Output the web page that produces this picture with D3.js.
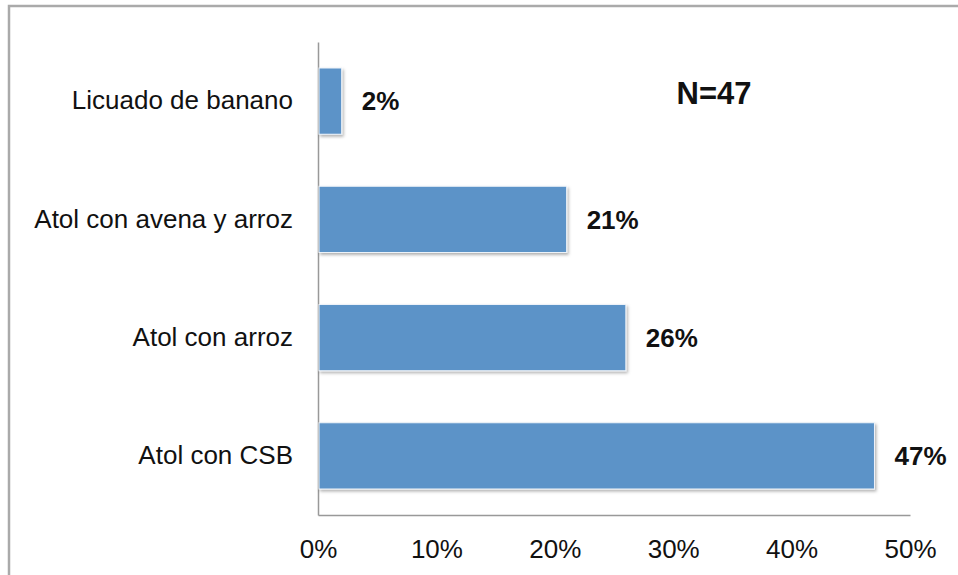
<!DOCTYPE html>
<html>
<head>
<meta charset="utf-8">
<script src="https://cdn.jsdelivr.net/npm/d3@7"></script>
<style>
  body { margin: 0; background: #fff; }
  text { font-family: "Liberation Sans", Arial, sans-serif; fill: #111; }
</style>
</head>
<body>
<div id="chart"></div>
<script>
// data
var categories = ["Licuado de banano", "Atol con avena y arroz", "Atol con arroz", "Atol con CSB"];
var values = [2, 21, 26, 47];
var tickValues = [0, 10, 20, 30, 40, 50];
var note = "N=47";

var W = 958, H = 575;
var margin = {top: 42, right: 48, bottom: 60, left: 318},
    width = W - margin.left - margin.right,
    height = H - margin.top - margin.bottom;

var svg = d3.select("#chart")
  .append("svg")
  .attr("width", W)
  .attr("height", H);

// outer frame (only top and left visible)
svg.append("path")
  .attr("d", "M9,575 L9,6 L958,6")
  .attr("fill", "none")
  .attr("stroke", "#aaa")
  .attr("stroke-width", 2.5);

var defs = svg.append("defs");
var f = defs.append("filter").attr("id", "shadow")
  .attr("x", "-10%").attr("y", "-10%").attr("width", "130%").attr("height", "130%");
f.append("feDropShadow").attr("dx", 1.5).attr("dy", 2).attr("stdDeviation", 1.5)
  .attr("flood-color", "#000").attr("flood-opacity", 0.3);

var g = svg.append("g")
  .attr("transform", "translate(" + margin.left + "," + margin.top + ")");

var x = d3.scaleLinear().domain([0, 50]).range([0, width]);
var y = d3.scaleBand().domain(categories).range([0, height]).paddingInner(0.44).paddingOuter(0.22);

// x axis: line + labels, no tick marks
g.append("g")
  .attr("transform", "translate(0," + height + ")")
  .call(d3.axisBottom(x).tickValues(tickValues).tickSize(0).tickPadding(25)
    .tickFormat(function(d) { return d + "%"; }))
  .call(function(a) {
    a.select(".domain").attr("stroke", "#999").attr("stroke-width", 1.5);
    a.selectAll("text").style("font-size", "26px").attr("fill", "#111")
      .style("font-family", "'Liberation Sans', Arial, sans-serif");
  });

// y axis
g.append("g")
  .call(d3.axisLeft(y).tickSize(0).tickPadding(25))
  .call(function(a) {
    a.select(".domain").attr("stroke", "#999").attr("stroke-width", 1.5);
    a.selectAll("text").style("font-size", "26px").attr("fill", "#111")
      .style("font-family", "'Liberation Sans', Arial, sans-serif");
  });

// bars
g.selectAll(".bar")
  .data(values)
  .enter().append("rect")
  .attr("class", "bar")
  .attr("x", x(0) + 1)
  .attr("y", function(d, i) { return y(categories[i]); })
  .attr("width", function(d) { return x(d) - x(0) - 1; })
  .attr("height", y.bandwidth())
  .attr("fill", "#5b93c8")
  .attr("stroke", "#eef3f9")
  .attr("stroke-width", 1)
  .attr("filter", "url(#shadow)");

// value labels
g.selectAll(".val")
  .data(values)
  .enter().append("text")
  .attr("class", "val")
  .attr("x", function(d) { return x(d) + 20; })
  .attr("y", function(d, i) { return y(categories[i]) + y.bandwidth() / 2; })
  .attr("dy", "0.36em")
  .style("font-size", "26px")
  .style("font-weight", "bold")
  .text(function(d) { return d + "%"; });

svg.append("text")
  .attr("x", 714)
  .attr("y", 93)
  .attr("dy", "0.36em")
  .attr("text-anchor", "middle")
  .style("font-size", "31px")
  .style("font-weight", "bold")
  .text(note);
</script>
</body>
</html>
